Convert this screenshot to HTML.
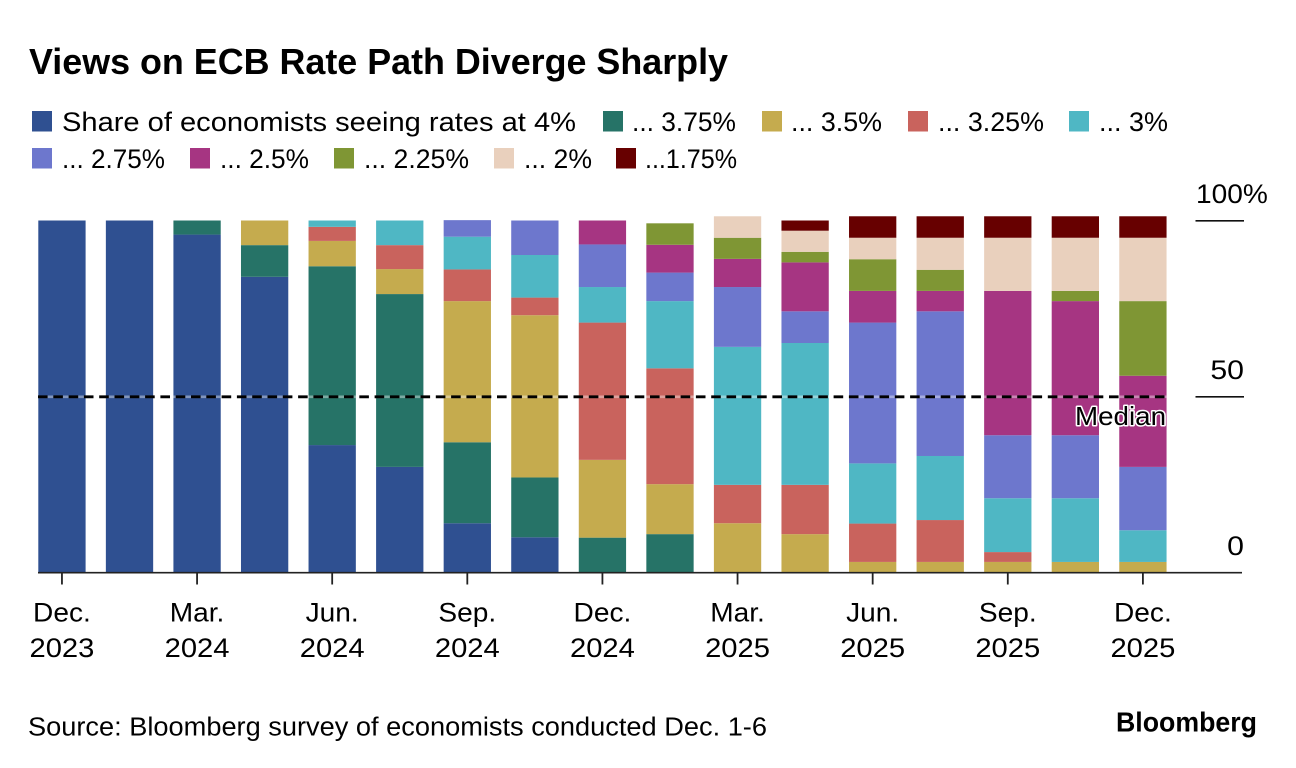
<!DOCTYPE html>
<html lang="en">
<head>
<meta charset="utf-8">
<title>Views on ECB Rate Path Diverge Sharply</title>
<style>
html,body{margin:0;padding:0;background:#fff;}
body{width:1296px;height:768px;overflow:hidden;}
svg{display:block;}
text{font-family:"Liberation Sans",sans-serif;fill:#000;}
</style>
</head>
<body>
<svg id="chart" xmlns="http://www.w3.org/2000/svg" width="1296" height="768" viewBox="0 0 1296 768">
  <rect x="0" y="0" width="1296" height="768" fill="#fff"/>
  <text x="29" y="74" font-size="36.5" font-weight="700" textLength="699" lengthAdjust="spacingAndGlyphs">Views on ECB Rate Path Diverge Sharply</text>

  <g font-size="27">
    <rect x="32" y="111" width="20" height="20.5" fill="#2f5091"/>
    <text x="62" y="131" textLength="514" lengthAdjust="spacingAndGlyphs">Share of economists seeing rates at 4%</text>
    <rect x="603" y="111" width="20" height="20.5" fill="#267367"/>
    <text x="632" y="131" textLength="104" lengthAdjust="spacingAndGlyphs">... 3.75%</text>
    <rect x="762" y="111" width="20" height="20.5" fill="#c5ab4e"/>
    <text x="791" y="131" textLength="91" lengthAdjust="spacingAndGlyphs">... 3.5%</text>
    <rect x="908" y="111" width="20" height="20.5" fill="#c9635d"/>
    <text x="938" y="131" textLength="106" lengthAdjust="spacingAndGlyphs">... 3.25%</text>
    <rect x="1069" y="111" width="20" height="20.5" fill="#4fb7c4"/>
    <text x="1099" y="131" textLength="69" lengthAdjust="spacingAndGlyphs">... 3%</text>

    <rect x="32" y="148" width="20" height="20.5" fill="#6d77cd"/>
    <text x="62" y="168" textLength="103" lengthAdjust="spacingAndGlyphs">... 2.75%</text>
    <rect x="190" y="148" width="20" height="20.5" fill="#a63582"/>
    <text x="220" y="168" textLength="89" lengthAdjust="spacingAndGlyphs">... 2.5%</text>
    <rect x="334" y="148" width="20" height="20.5" fill="#7f9634"/>
    <text x="364" y="168" textLength="105" lengthAdjust="spacingAndGlyphs">... 2.25%</text>
    <rect x="494" y="148" width="20" height="20.5" fill="#e9d0bd"/>
    <text x="524" y="168" textLength="68" lengthAdjust="spacingAndGlyphs">... 2%</text>
    <rect x="616" y="148" width="20" height="20.5" fill="#670000"/>
    <text x="645" y="168" textLength="92" lengthAdjust="spacingAndGlyphs">...1.75%</text>
  </g>

  <g id="bars"></g>
  <g id="y-axis"></g>
  <g id="x-axis"></g>
  <g id="median"></g>

  <text x="28" y="735.5" font-size="25.5" textLength="739" lengthAdjust="spacingAndGlyphs">Source: Bloomberg survey of economists conducted Dec. 1-6</text>
  <text x="1116" y="731.5" font-size="28" font-weight="700" textLength="141" lengthAdjust="spacingAndGlyphs">Bloomberg</text>
</svg>
<script>
const barCategories = ["Dec 2023","Feb 2024","Mar 2024","May 2024","Jun 2024","Aug 2024","Sep 2024","Nov 2024","Dec 2024","Feb 2025","Mar 2025","May 2025","Jun 2025","Aug 2025","Sep 2025","Nov 2025","Dec 2025"];
const seriesNames = ["4","3-75","3-5","3-25","3","2-75","2-5","2-25","2","1-75"];
const seriesColors = ["#2f5091","#267367","#c5ab4e","#c9635d","#4fb7c4","#6d77cd","#a63582","#7f9634","#e9d0bd","#670000"];
const share400 = [100,100,96,84,36.2,30,14,10,0,0,0,0,0,0,0,0,0];
const share375 = [0,0,4,9,50.8,49.1,23,17,9.9,10.9,0,0,0,0,0,0,0];
const share350 = [0,0,0,7,7.2,7.1,40.1,46.1,22.1,14.2,14,10.9,3,3,3,3,3];
const share325 = [0,0,0,0,4,6.8,9,5,39,32.9,10.9,14,10.9,11.9,2.8,0,0];
const share300 = [0,0,0,0,1.8,7,9.3,12.1,10.1,19.1,39.2,40.3,17.1,18.2,15.3,18.1,9];
const share275 = [0,0,0,0,0,0,4.7,9.8,12.1,8.1,17,9,40,41.1,17.9,17.9,18];
const share250 = [0,0,0,0,0,0,0,0,6.8,7.9,8,13.9,9,5.8,41,38.1,25.9];
const share225 = [0,0,0,0,0,0,0,0,0,6.1,6,3,9,6,0,2.9,21.2];
const share200 = [0,0,0,0,0,0,0,0,0,0,6.1,6,6.1,9.1,15.1,15.1,18];
const share175 = [0,0,0,0,0,0,0,0,0,0,0,2.9,6.1,6.1,6.1,6.1,6.1];
const allSeries = [share400,share375,share350,share325,share300,share275,share250,share225,share200,share175];
const yTickValues = [100,50,0];
const yTickLabels = ["100%","50","0"];
const xTickMonths = ["Dec.","Mar.","Jun.","Sep.","Dec.","Mar.","Jun.","Sep.","Dec."];
const xTickYears = ["2023","2024","2024","2024","2024","2025","2025","2025","2025"];
const medianValue = 50;

const NS = "http://www.w3.org/2000/svg";
function yScale(v){ return 572.5 - v * 3.52; }
function xScale(i){ return 38.3 + i * 67.56; }
const barWidth = 47.3;
function make(tag, attrs, parent){
  const el = document.createElementNS(NS, tag);
  for (const k in attrs) el.setAttribute(k, attrs[k]);
  parent.appendChild(el);
  return el;
}

const barsG = document.getElementById("bars");
barCategories.forEach(function(cat, i){
  let base = 0;
  allSeries.forEach(function(series, s){
    const v = series[i];
    if (v > 0) {
      const r = make("rect", {x: xScale(i), y: yScale(base + v), width: barWidth, height: yScale(base) - yScale(base + v), fill: seriesColors[s]}, barsG);
      
      
      const t = make("title", {}, r);
      t.textContent = cat + " " + seriesNames[s] + ": " + v;
      base += v;
    }
  });
});

const yG = document.getElementById("y-axis");
yTickValues.forEach(function(v, i){
  if (v > 0) {
    const tick = make("line", {x1: 1195.5, x2: 1244, y1: yScale(v) + 0.3, y2: yScale(v) + 0.3, stroke: "#111", "stroke-width": 1.6}, yG);
    
    
  }
  const lx = v === 100 ? 1196 : 1244;
  const anchor = v === 100 ? "start" : "end";
  const label = make("text", {x: lx, y: yScale(v) - 17.5, "font-size": 27, "text-anchor": anchor}, yG);
  label.textContent = yTickLabels[i];
  
  
  const w = label.getComputedTextLength();
  label.setAttribute("textLength", w * (v === 100 ? 1.04 : 1.12));
  label.setAttribute("lengthAdjust", "spacingAndGlyphs");
});

const xG = document.getElementById("x-axis");
xTickMonths.forEach(function(m, i){
  const cx = xScale(i * 2) + barWidth / 2;
  const tick = make("line", {x1: cx, x2: cx, y1: 573, y2: 584.5, stroke: "#222", "stroke-width": 1.8}, xG);
  
  
  const mt = make("text", {x: cx, y: 621.5, "font-size": 27, "text-anchor": "middle"}, xG);
  mt.textContent = m;
  
  
  mt.setAttribute("textLength", mt.getComputedTextLength() * 1.04);
  mt.setAttribute("lengthAdjust", "spacingAndGlyphs");
  const yt = make("text", {x: cx, y: 657, "font-size": 27, "text-anchor": "middle"}, xG);
  yt.textContent = xTickYears[i];
  
  
  yt.setAttribute("textLength", yt.getComputedTextLength() * 1.08);
  yt.setAttribute("lengthAdjust", "spacingAndGlyphs");
});
const axisLine = make("line", {x1: 38, x2: 1242, y1: 572.7, y2: 572.7, stroke: "#222", "stroke-width": 1.6}, xG);



const mG = document.getElementById("median");
const my = yScale(medianValue) + 0.3;
const halo = make("line", {x1: 38, x2: 1166.5, y1: my, y2: my, stroke: "rgba(255,255,255,0.4)", "stroke-width": 2.6}, mG);


const dash = make("line", {x1: 38, x2: 1166.5, y1: my, y2: my, stroke: "#000", "stroke-width": 2.8, "stroke-dasharray": "9.6 5.7"}, mG);


const mLabel = make("text", {x: 1075, y: 425, "font-size": 26, stroke: "#fff", "stroke-width": 3, "stroke-linejoin": "round", "paint-order": "stroke", textLength: 91, lengthAdjust: "spacingAndGlyphs"}, mG);
mLabel.textContent = "Median";


</script>
</body>
</html>
